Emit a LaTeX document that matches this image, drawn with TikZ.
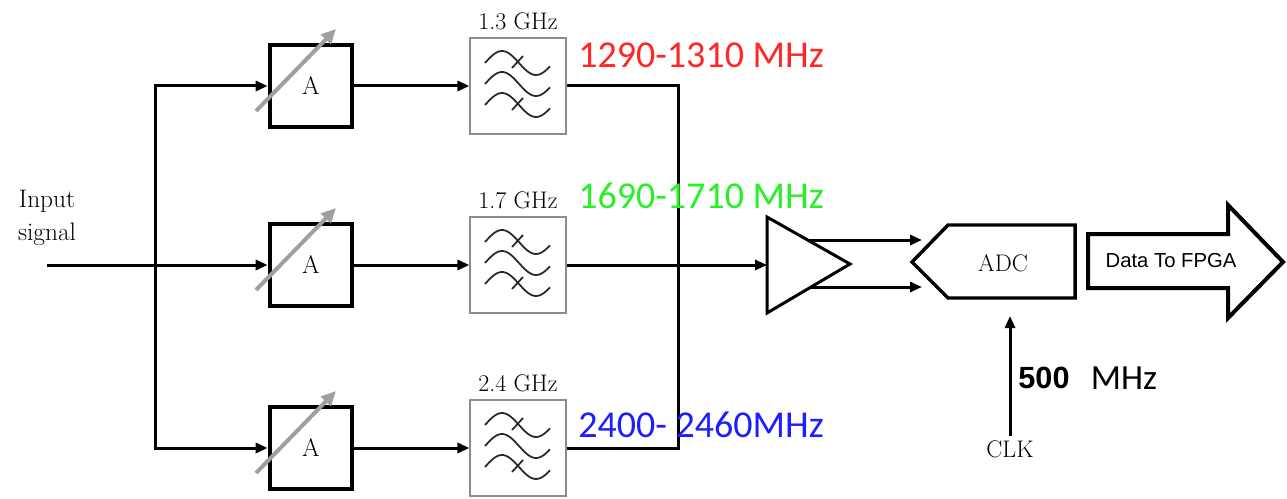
\documentclass[tikz,border=0pt]{standalone}
\usepackage{fontspec}
\newfontfamily\calibri{Carlito}
\newfontfamily\arial{Liberation Sans}
\usetikzlibrary{arrows.meta}
\definecolor{bandred}{RGB}{255,38,38}
\definecolor{bandgreen}{RGB}{40,240,40}
\definecolor{bandblue}{RGB}{30,30,255}
\newcommand\blockfont{\fontsize{18}{22}\selectfont}
\tikzset{
>={Triangle[length=9pt,width=7.5pt]},
wire/.style={line width=2.25pt},
sig/.style={wire,->},
ampbox/.style={draw,line width=3pt,minimum width=62pt,minimum height=61pt,font=\fontsize{19}{22}\selectfont},
bpfbox/.style={draw=gray!90,line width=0.9pt,minimum width=72pt,minimum height=72pt},
freq/.style={font=\blockfont,label distance=2pt},
wave/.style={line width=1.3pt,draw=black!85,smooth},
tune/.style={draw=gray!75,line width=3pt,-{Triangle[length=11pt,width=10pt]}},
band/.style={anchor=west,inner sep=0pt,font=\calibri\fontsize{28.5}{34}\selectfont},
}

\begin{document}
\begin{tikzpicture}[x=0.75pt,y=-0.75pt]
    \useasboundingbox (0,0) rectangle (1287,499);

    % three branches: attenuator, then band pass filter
    \foreach \n/\y/\f in {1/86/1.3,2/265/1.7,3/448/2.4}{
        \node[ampbox] (amp\n) at (311,\y) {A};
        \node[bpfbox,label={[freq]above:\f~GHz}] (bpf\n) at (518,\y) {};
        \draw[sig] (amp\n.east) -- (bpf\n.west);
        \draw[tune] ([shift={(-55,25)}]amp\n.center) -- ([shift={(25,-57)}]amp\n.center);
        \begin{scope}[shift={(bpf\n.center)}]
            \foreach \dy in {-21,0,21}
                \draw[wave,domain=-33:32,samples=40,variable=\t] plot ({\t},{\dy-2-12*sin((\t+33)*5.2941)});
            \draw[wave] (-6,-18) -- (5,-30);
            \draw[wave] (-6,24) -- (5,12);
        \end{scope}
    }

    \node[font=\fontsize{19}{25}\selectfont,align=center] (insig) at (47,218) {Input\\signal};
    \coordinate (in) at (47,265);
    \coordinate (busT) at (155,86);
    \coordinate (busB) at (155,448);
    \draw[wire,line cap=rect] (busT) -- (busB);
    \draw[sig] (in) -- (amp2.west);
    \draw[sig] (busT) -- (amp1.west);
    \draw[sig] (busB) -- (amp3.west);

    % outer bands joined, middle band to the driver
    \coordinate (sumT) at (678,86);
    \coordinate (sumB) at (678,448);
    \draw[wire] (bpf1.east) -- (sumT) -- (sumB) -- (bpf3.east);

    \coordinate (drvT) at (767,217);
    \coordinate (drvB) at (767,313);
    \coordinate (drvtip) at (850,264);
    \draw[wire] (drvT) -- (drvtip) -- (drvB) -- cycle;
    \draw[sig] (bpf2.east) -- (bpf2.east -| drvT);

    \coordinate (drvP) at (808,240);
    \coordinate (drvN) at (811,287);
    \coordinate (adcP) at (922,240);
    \coordinate (adcN) at (922,287);
    \draw[sig] (drvP) -- (adcP);
    \draw[sig] (drvN) -- (adcN);

    \node[band,text=bandred] (band1) at (578,55) {1290-1310 MHz};
    \node[band,text=bandgreen] (band2) at (578,196) {1690-1710 MHz};
    \node[band,text=bandblue] (band3) at (578,425) {2400- 2460MHz};

    % converter and clock
    \node[font=\blockfont] (adc) at (1003,263) {ADC};
    \draw[line width=2.6pt] (912,262) -- (948,225) -- (1075,225) -- (1075,298) -- (948,298) -- cycle;

    \node[font=\blockfont] (clk) at (1010,449) {CLK};
    \coordinate (clkin) at (1010,316);
    \draw[sig] (clk.north) -- (clkin);
    \node[font=\arial\bfseries\fontsize{23}{27}\selectfont] (rate) at (1044,378) {500};
    \node[font=\calibri\fontsize{26.5}{30}\selectfont] (rateunit) at (1124,378) {MHz};

    \draw[line width=3pt] (1088,234) -- (1228,234) -- (1228,205) -- (1283,262) -- (1228,318) -- (1228,288) -- (1088,288) -- cycle;
    \node[font=\arial\fontsize{15.2}{18}\selectfont] (fpga) at (1171,261) {Data To FPGA};
\end{tikzpicture}
\end{document}
